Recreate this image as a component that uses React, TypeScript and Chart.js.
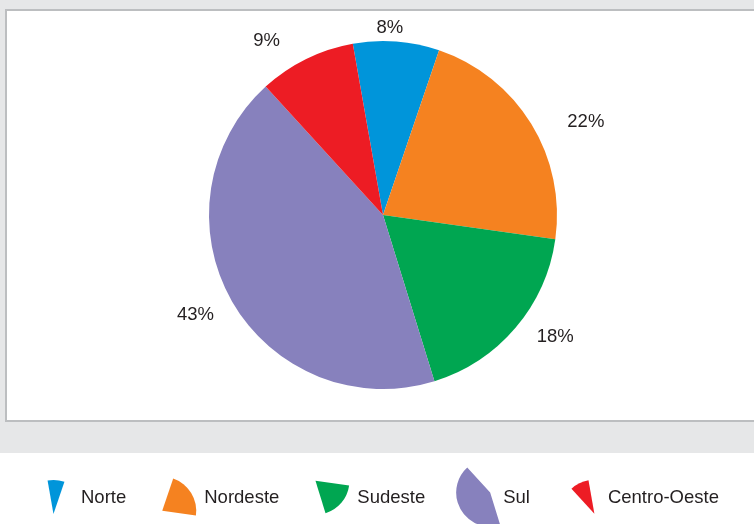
import React, { useEffect, useRef } from "react";
import { Chart, registerables } from "chart.js";

Chart.register(...registerables);

const categories = ["Norte", "Nordeste", "Sudeste", "Sul", "Centro-Oeste"];
const values = [8, 22, 18, 43, 9];
const valueLabels = ["8%", "22%", "18%", "43%", "9%"];
const colors = ["#0095da", "#f58220", "#00a651", "#8781bd", "#ed1c24"];

// label placement relative to each slice's middle angle (layout only)
const labelAngleShiftDeg = [-2.3, 6.5, -5.5, 2.0, -7.3];
const labelRadiusExtra = [15, 50, 36, 38, 37];

const FONT = '"Liberation Sans", Arial, Helvetica, sans-serif';
const TEXT_COLOR = "#231f20";

const backgroundPlugin = {
  id: "bgPanel",
  beforeDraw(chart: any) {
    const ctx = chart.ctx;
    const W = chart.width;
    const H = chart.height;
    ctx.save();
    ctx.fillStyle = "#ffffff";
    ctx.fillRect(0, 0, W, H);
    ctx.fillStyle = "#e6e7e8";
    ctx.fillRect(0, 0, W, 453);
    ctx.fillStyle = "#bcbec0";
    ctx.fillRect(5, 9, W - 5, 413);
    ctx.fillStyle = "#ffffff";
    ctx.fillRect(7, 11, W - 7, 409);
    ctx.restore();
  },
};

const labelsPlugin = {
  id: "outerLabels",
  afterDatasetsDraw(chart: any) {
    const ctx = chart.ctx;
    const meta = chart.getDatasetMeta(0);
    ctx.save();
    ctx.font = `18.5px ${FONT}`;
    ctx.fillStyle = TEXT_COLOR;
    ctx.textAlign = "center";
    ctx.textBaseline = "alphabetic";
    meta.data.forEach((arc: any, i: number) => {
      const p = arc.getProps(["startAngle", "endAngle", "outerRadius", "x", "y"], true);
      const mid = (p.startAngle + p.endAngle) / 2 + (labelAngleShiftDeg[i] * Math.PI) / 180;
      const d = p.outerRadius + labelRadiusExtra[i];
      const x = p.x + Math.cos(mid) * d;
      const y = p.y + Math.sin(mid) * d;
      ctx.fillText(valueLabels[i], x, y + 6.6);
    });
    ctx.restore();
  },
};

const legendPlugin = {
  id: "wedgeLegend",
  afterDraw(chart: any) {
    const ctx = chart.ctx;
    const meta = chart.getDatasetMeta(0);
    const r = 34;
    const cy = 497;
    ctx.save();
    ctx.font = `18.5px ${FONT}`;
    ctx.textAlign = "left";
    ctx.textBaseline = "alphabetic";
    let cx = 56;
    meta.data.forEach((arc: any, i: number) => {
      const p = arc.getProps(["startAngle", "endAngle"], true);
      const s = p.startAngle;
      const e = p.endAngle;
      // bounding box of the scaled slice
      const pts: number[][] = [[0, 0], [Math.cos(s) * r, Math.sin(s) * r], [Math.cos(e) * r, Math.sin(e) * r]];
      for (let k = -8; k <= 8; k++) {
        const a = (k * Math.PI) / 2;
        if (a > s && a < e) pts.push([Math.cos(a) * r, Math.sin(a) * r]);
      }
      const xs = pts.map((q) => q[0]);
      const ys = pts.map((q) => q[1]);
      const minX = Math.min(...xs), maxX = Math.max(...xs);
      const minY = Math.min(...ys), maxY = Math.max(...ys);
      const ax = cx - (minX + maxX) / 2;
      const ay = cy - (minY + maxY) / 2;
      ctx.beginPath();
      ctx.moveTo(ax, ay);
      ctx.arc(ax, ay, r, s, e);
      ctx.closePath();
      ctx.fillStyle = colors[i];
      ctx.fill();
      ctx.fillStyle = TEXT_COLOR;
      const tx = cx + 25;
      ctx.fillText(categories[i], tx, 503);
      const w = ctx.measureText(categories[i]).width;
      cx = tx + w + 53;
    });
    ctx.restore();
  },
};

export default function App() {
  const ref = useRef<HTMLCanvasElement | null>(null);
  useEffect(() => {
    if (!ref.current) return;
    const chart = new Chart(ref.current, {
      type: "pie",
      data: {
        labels: categories,
        datasets: [
          {
            data: values,
            backgroundColor: colors,
            borderWidth: 0,
          },
        ],
      },
      options: {
        responsive: false,
        animation: false,
        events: [],
        rotation: -10,
        layout: { padding: { left: 209, right: 197, top: 41, bottom: 135 } },
        plugins: {
          legend: { display: false },
          tooltip: { enabled: false },
        },
      },
      plugins: [backgroundPlugin, labelsPlugin, legendPlugin],
    });
    return () => chart.destroy();
  }, []);
  return (
    <div style={{ position: "fixed", left: 0, top: 0, width: 754, height: 524 }}>
      <canvas ref={ref} width={754} height={524} style={{ display: "block", width: 754, height: 524 }} />
    </div>
  );
}
